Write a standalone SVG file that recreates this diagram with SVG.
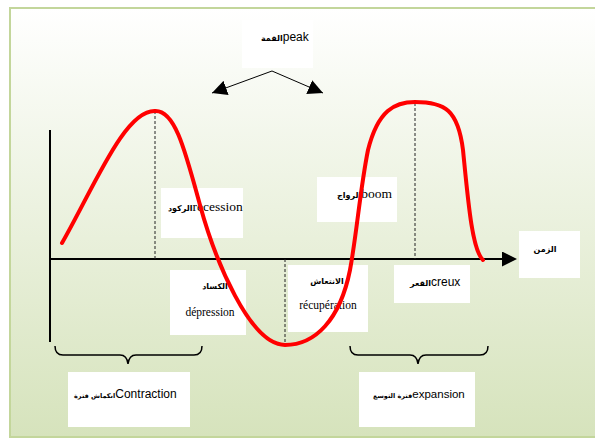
<svg xmlns="http://www.w3.org/2000/svg" width="595" height="440" viewBox="0 0 595 440">
<defs>
<linearGradient id="bg" x1="0" y1="0" x2="0" y2="1">
<stop offset="0" stop-color="#ffffff"/>
<stop offset="1" stop-color="#d6e3bc"/>
</linearGradient>
<marker id="ah" viewBox="0 0 10 10" refX="10" refY="5" markerWidth="15" markerHeight="15" markerUnits="userSpaceOnUse" orient="auto">
<path d="M0,0 L10,5 L0,10 Z" fill="#000"/>
</marker>
<marker id="axh" viewBox="0 0 10 10" refX="2" refY="5" markerWidth="15" markerHeight="15" markerUnits="userSpaceOnUse" orient="auto">
<path d="M0,0 L10,5 L0,10 Z" fill="#000"/>
</marker>
</defs>
<style>
.box{fill:#ffffff;stroke:none}
.sans{font-family:"Liberation Sans","DejaVu Sans",Arial,sans-serif;fill:#000}
.serif{font-family:"Liberation Serif","DejaVu Sans","Times New Roman",serif;fill:#000}
.ar{font-family:"DejaVu Sans","Noto Sans",sans-serif;font-weight:bold;font-size:8px;fill:#000}
.ar7{font-family:"DejaVu Sans","Noto Sans",sans-serif;font-weight:bold;font-size:6.5px;fill:#000}
.dash{stroke:#222;stroke-width:1;stroke-dasharray:3,2;fill:none}
.axis{stroke:#000;stroke-width:2;fill:none}
.brace{stroke:#000;stroke-width:1.5;fill:none}
.curve{stroke:#ff0000;stroke-width:4;fill:none;stroke-linecap:round}
</style>
<rect x="10" y="8" width="590" height="429" fill="url(#bg)" stroke="#c3d69b" stroke-width="2"/>

<g id="peak">
<rect class="box" x="242" y="20" width="71" height="48"/>
<text class="sans" x="261" y="41" font-size="12"><tspan class="ar">القمة</tspan>peak</text>
</g>
<g id="recession">
<rect class="box" x="161" y="188" width="82" height="50"/>
<text class="serif" x="168" y="211" font-size="13.5"><tspan class="ar">الركود</tspan>recession</text>
</g>
<g id="depression">
<rect class="box" x="170" y="270" width="76" height="65"/>
<text class="ar" x="215" y="289" text-anchor="middle">الكساد</text>
<text class="serif" x="210" y="316" font-size="11.5" text-anchor="middle">dépression</text>
</g>
<g id="recuperation">
<rect class="box" x="288" y="265" width="80" height="67"/>
<text class="ar" x="327" y="284" text-anchor="middle">الانتعاش</text>
<text class="serif" x="328" y="309" font-size="11.5" text-anchor="middle">récupération</text>
</g>
<g id="boom">
<rect class="box" x="317" y="177" width="80" height="45"/>
<text class="serif" x="337" y="198" font-size="13.5"><tspan class="ar">الرواج</tspan>boom</text>
</g>
<g id="creux">
<rect class="box" x="394" y="265" width="76" height="38"/>
<text class="sans" x="410" y="286" font-size="12"><tspan class="ar">القعر</tspan>creux</text>
</g>
<g id="temps">
<rect class="box" x="519" y="231" width="61" height="47"/>
<text class="ar" x="545" y="252" text-anchor="middle">الزمن</text>
</g>
<g id="contraction">
<rect class="box" x="68" y="372" width="122" height="55"/>
<text class="sans" x="74" y="398" font-size="12"><tspan class="ar7">انكماش فترة</tspan>Contraction</text>
</g>
<g id="expansion">
<rect class="box" x="359" y="372" width="116" height="55"/>
<text class="sans" x="373" y="398" font-size="11.5"><tspan class="ar7">فترة التوسع</tspan>expansion</text>
</g>

<g id="connectors">
<line class="axis" x1="50" y1="130" x2="50" y2="342"/>
<line class="axis" x1="49" y1="259" x2="505" y2="259" marker-end="url(#axh)"/>
<line class="dash" x1="155" y1="111" x2="155" y2="259"/>
<line class="dash" x1="285" y1="259" x2="285" y2="345"/>
<line class="dash" x1="415" y1="103" x2="415" y2="259"/>
<path d="M272,71 L212,93" stroke="#000" stroke-width="1" fill="none" marker-end="url(#ah)"/>
<path d="M272,71 L323,93" stroke="#000" stroke-width="1" fill="none" marker-end="url(#ah)"/>
<path class="brace" d="M55,346 Q55,355 63,355 L120,355 Q127,355 128,364 Q129,355 136,355 L194,355 Q202,355 202,346"/>
<path class="brace" d="M350,346 Q350,355 358,355 L410,355 Q417,355 418,364 Q419,355 426,355 L480,355 Q488,355 488,346"/>
<path class="curve" d="M62,243 C95,185 125,110 155,111 C175,110 185,150 200,205 C215,260 250,345 285,345 C315,345 340,320 350,270 C357,232 360,190 368,150 C378,110 395,102 415,102 C445,102 458,110 463,150 C468,200 472,250 483,260"/>
</g>
</svg>
